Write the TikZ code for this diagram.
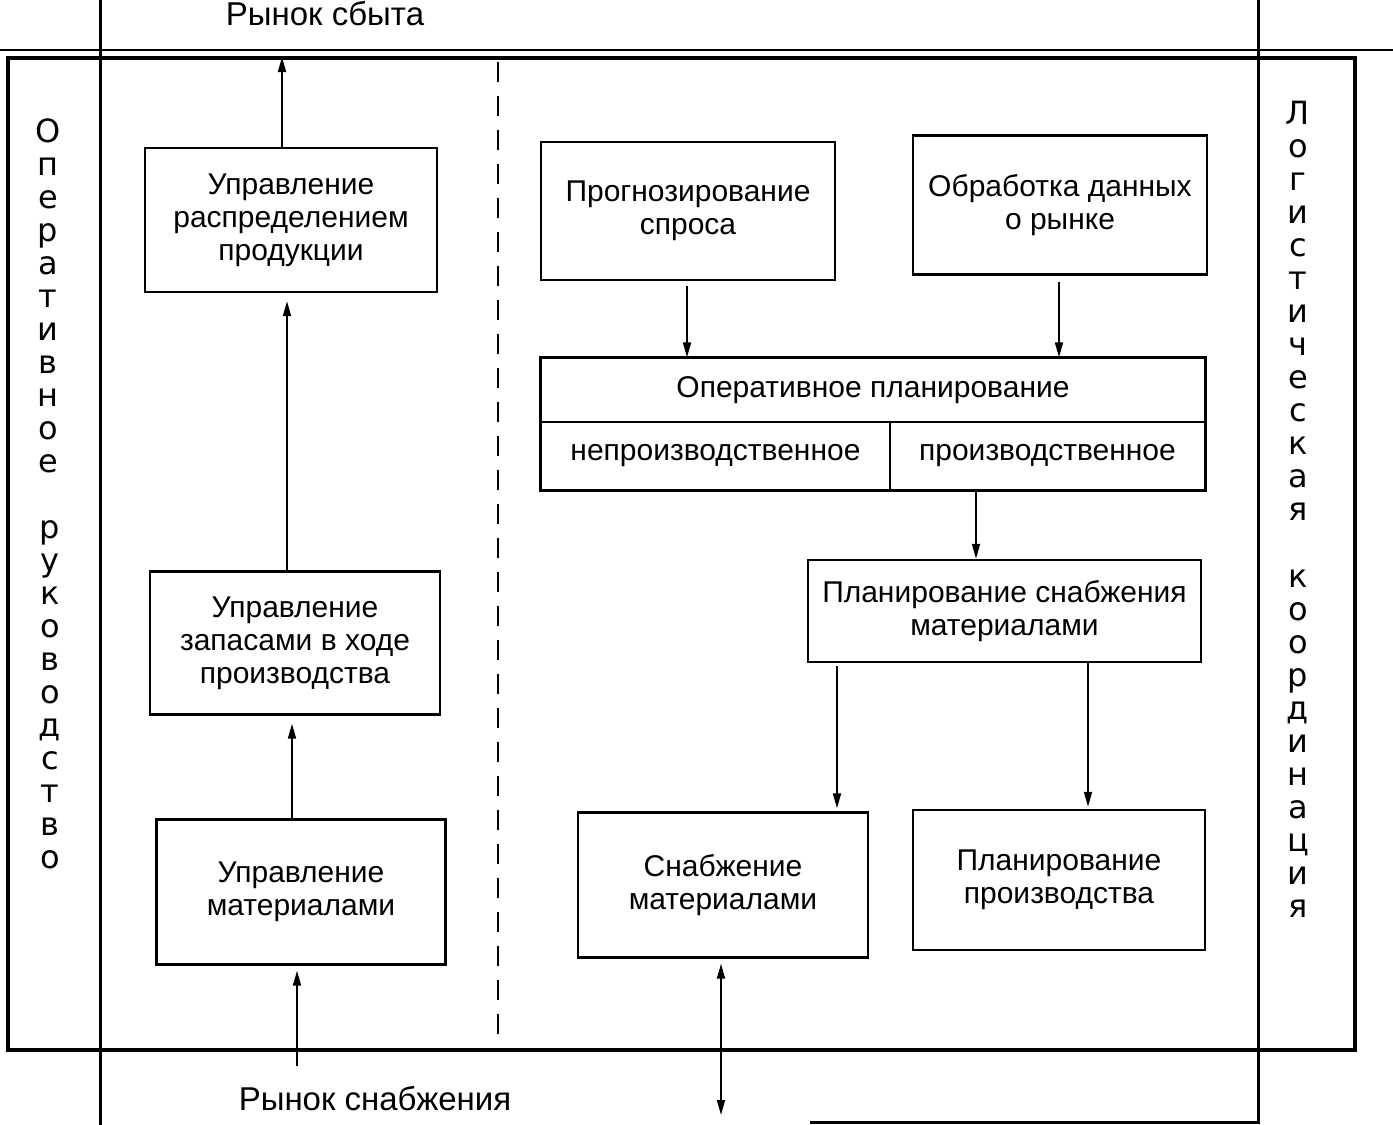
\documentclass[tikz,border=0pt]{standalone}
\usepackage{fontspec}
\setmainfont{Liberation Sans}
\newfontfamily\vf{DejaVu Sans}
\usetikzlibrary{arrows.meta,calc}
\tikzset{
  bx/.style 2 args={draw, line width=2.4pt, minimum width=#1pt, minimum height=#2pt,
    inner sep=0pt, align=center, font=\fontsize{30}{33}\selectfont},
  cell/.style 2 args={draw, line width=1.3pt, minimum width=#1pt, minimum height=#2pt,
    inner sep=0pt, align=center, font=\fontsize{30}{33}\selectfont},
  arr/.style={line width=1.8pt, -{Triangle[length=15pt,width=8pt]}},
  arrr/.style={line width=1.8pt, {Triangle[length=15pt,width=8pt]}-{Triangle[length=15pt,width=8pt]}},
  vl/.style={anchor=mid, inner sep=0pt, text height=21pt, text depth=7pt,
    font=\vf\fontsize{32}{32}\selectfont},
  mk/.style={anchor=base, inner sep=0pt, font=\fontsize{33}{33}\selectfont},
}
\begin{document}
\begin{tikzpicture}[x=1pt,y=-1pt]
\useasboundingbox (0,0) rectangle (1393,1125);
% frames
\draw[line width=1.2pt] (0,50) -- (1393,50);
\draw[line width=4pt] (8,58) rectangle (1355,1050);
\draw[line width=3pt] (100,0) -- (100,1125);
\draw[line width=3pt] (810,1122) -- (1258,1122) -- (1258,0);
\draw[line width=2pt, dash pattern=on 20pt off 14pt] (498,62) -- (498,1046);
% vertical labels
\foreach \c [count=\i from 0] in {О,п,е,р,а,т,и,в,н,о,е}
  \node[vl] (la\i) at (48,140+33*\i) {\c};
\foreach \c [count=\i from 0] in {р,у,к,о,в,о,д,с,т,в,о}
  \node[vl] (lb\i) at (50,536+33*\i) {\c};
\foreach \c [count=\i from 0] in {Л,о,г,и,с,т,и,ч,е,с,к,а,я}
  \node[vl] (ra\i) at (1298,122+33*\i) {\c};
\foreach \c [count=\i from 0] in {к,о,о,р,д,и,н,а,ц,и,я}
  \node[vl] (rb\i) at (1298,585+33*\i) {\c};
% market labels
\node[mk] (msb) at (325,25) {Рынок сбыта};
\node[mk] (msn) at (375,1110) {Рынок снабжения};
% left boxes
\node[bx={292}{144}] (b1) at (291,220) {Управление\\распределением\\продукции};
\node[bx={290}{143}] (b2) at (295,643) {Управление\\запасами в ходе\\производства};
\node[bx={289}{145}] (b3) at (301,892) {Управление\\материалами};
% right boxes
\node[bx={294}{138}] (p1) at (688,211) {Прогнозирование\\спроса};
\node[bx={294}{139}] (p2) at (1060,205) {Обработка данных\\о рынке};
\node[cell={664}{64}] (opt) at (873,390) {Оперативное планирование};
\node[cell={349}{68}] (opn) at (715.5,456) {непроизводственное};
\node[cell={315}{68}] (opp) at (1047.5,456) {производственное};
\draw[line width=2.4pt] (opt.north west) rectangle (opp.south east);
\node[bx={393}{102}] (ps) at (1004.5,611) {Планирование снабжения\\материалами};
\node[bx={290}{145}] (sm) at (723,885) {Снабжение\\материалами};
\node[bx={292}{140}] (pp) at (1059,880) {Планирование\\производства};
% guide coordinates
\coordinate (xa) at (282,57);
\coordinate (xb) at (287,0);
\coordinate (xc) at (292,0);
\coordinate (xd) at (297,1066);
\coordinate (xe) at (687,0);
\coordinate (xf) at (1059,0);
\coordinate (xg) at (976,0);
\coordinate (xh) at (837,0);
\coordinate (xi) at (1088,0);
\coordinate (xj) at (721,1115);
% connectors
\draw[arr] (b1.north -| xa) -- (xa);
\draw[arr, shorten >=8pt] (b2.north -| xb) -- (b1.south -| xb);
\draw[arr, shorten >=8pt] (b3.north -| xc) -- (b2.south -| xc);
\draw[arr, shorten >=5pt] (xd) -- (b3.south -| xd);
\draw[arr, shorten <=5pt] (p1.south -| xe) -- (opt.north -| xe);
\draw[arr, shorten <=6pt] (p2.south -| xf) -- (opt.north -| xf);
\draw[arr] (opp.south -| xg) -- (ps.north -| xg);
\draw[arr, shorten <=3pt, shorten >=3pt] (ps.south -| xh) -- (sm.north -| xh);
\draw[arr, shorten >=2pt] (ps.south -| xi) -- (pp.north -| xi);
\draw[arrr, shorten <=5pt] (sm.south -| xj) -- (xj);
\end{tikzpicture}
\end{document}
